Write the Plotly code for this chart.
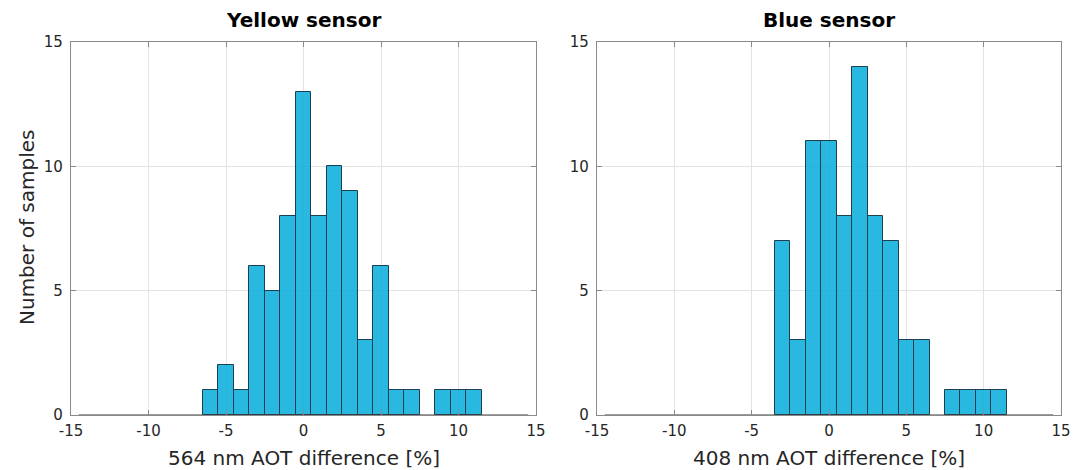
import plotly.graph_objects as go

# ---- data ----
bin_centers = [-14, -13, -12, -11, -10, -9, -8, -7, -6, -5, -4, -3, -2, -1, 0,
               1, 2, 3, 4, 5, 6, 7, 8, 9, 10, 11, 12, 13, 14]
yellow_counts = [0, 0, 0, 0, 0, 0, 0, 0, 1, 2, 1, 6, 5, 8, 13,
                 8, 10, 9, 3, 6, 1, 1, 0, 1, 1, 1, 0, 0, 0]
blue_counts = [0, 0, 0, 0, 0, 0, 0, 0, 0, 0, 0, 7, 3, 11, 11,
               8, 14, 8, 7, 3, 3, 0, 1, 1, 1, 1, 0, 0, 0]
bin_width = 1.0
titles = ["Yellow sensor", "Blue sensor"]
xlabels = ["564 nm AOT difference [%]", "408 nm AOT difference [%]"]
ylabel = "Number of samples"
tick_vals_x = [-15, -10, -5, 0, 5, 10, 15]
tick_text_x = ["-15", "-10", "-5", "0", "5", "10", "15"]
tick_vals_y = [0, 5, 10, 15]
tick_text_y = ["0", "5", "10", "15"]

W, H = 1083, 470
FONT = "DejaVu Sans"
BAR_FILL = "rgba(0,170,218,0.84)"
BAR_EDGE = "#1d3f4f"
AX_COL = "#8a8a8a"
TXT = "#262626"

dom1 = [71 / W, 536 / W]
dom2 = [597 / W, 1061 / W]
ydom = [1 - 415 / H, 1 - 42 / H]

fig = go.Figure()
edges_lo = bin_centers[0] - bin_width / 2
edges_hi = bin_centers[-1] + bin_width / 2

for i, counts in enumerate([yellow_counts, blue_counts]):
    xa = "x" if i == 0 else "x2"
    ya = "y" if i == 0 else "y2"
    # baseline of zero-count bins
    fig.add_trace(go.Scatter(x=[edges_lo, edges_hi], y=[0, 0], mode="lines",
                             line=dict(color="#3a3a3a", width=1.2),
                             xaxis=xa, yaxis=ya, showlegend=False, hoverinfo="skip"))
    xs = [c for c, v in zip(bin_centers, counts) if v > 0]
    ys = [v for v in counts if v > 0]
    fig.add_trace(go.Bar(x=xs, y=ys, width=bin_width,
                         marker=dict(color=BAR_FILL, line=dict(color=BAR_EDGE, width=1)),
                         xaxis=xa, yaxis=ya, showlegend=False))

axis_common = dict(showline=True, linecolor=AX_COL, linewidth=1.3, mirror="ticks",
                   ticks="inside", ticklen=5, tickcolor=AX_COL, tickwidth=1,
                   showgrid=True, gridcolor="#e3e3e3", gridwidth=1, zeroline=False,
                   automargin=False,
                   tickfont=dict(family=FONT, size=15, color=TXT))

xax = dict(range=[-15, 15], tickvals=tick_vals_x, ticktext=tick_text_x,
           ticklabelstandoff=2, **axis_common)
yax = dict(range=[0, 15], tickvals=tick_vals_y, ticktext=tick_text_y,
           ticklabelstandoff=4, **axis_common)

fig.update_layout(
    width=W, height=H, margin=dict(l=0, r=0, t=0, b=0),
    paper_bgcolor="white", plot_bgcolor="white", bargap=0,
    xaxis=dict(domain=dom1, anchor="y", **xax),
    yaxis=dict(domain=ydom, anchor="x", **yax),
    xaxis2=dict(domain=dom2, anchor="y2", **xax),
    yaxis2=dict(domain=ydom, anchor="x2", **yax),
)

annotations = []
for dom, t, xl in [(dom1, titles[0], xlabels[0]), (dom2, titles[1], xlabels[1])]:
    cx = (dom[0] + dom[1]) / 2
    annotations.append(dict(text="<b>" + t + "</b>", x=cx, y=1 - 20 / H, xref="paper", yref="paper",
                            showarrow=False, xanchor="center", yanchor="middle",
                            font=dict(family=FONT, size=20, color="black")))
    annotations.append(dict(text=xl, x=cx, y=1 - 458 / H, xref="paper", yref="paper",
                            showarrow=False, xanchor="center", yanchor="middle",
                            font=dict(family=FONT, size=20, color=TXT)))
annotations.append(dict(text=ylabel, x=27 / W, y=1 - 228 / H, xref="paper", yref="paper",
                        showarrow=False, xanchor="center", yanchor="middle", textangle=-90,
                        font=dict(family=FONT, size=20, color=TXT)))
fig.update_layout(annotations=annotations)

fig.write_html("out.html")
